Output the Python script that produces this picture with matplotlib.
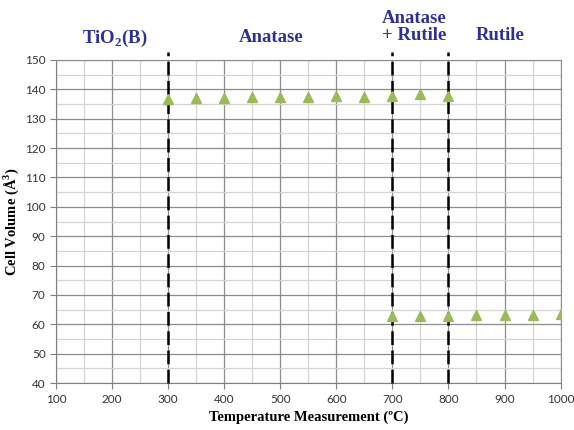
import matplotlib
matplotlib.use("Agg")
import matplotlib.pyplot as plt
import numpy as np
from matplotlib.ticker import MultipleLocator

# anatase cell volume (A^3) vs temperature (C)
anatase_t = [300, 350, 400, 450, 500, 550, 600, 650, 700, 750, 800]
anatase_v = [136.8, 137.2, 137.2, 137.4, 137.3, 137.3, 137.6, 137.5, 137.9, 138.3, 137.9]
# rutile cell volume
rutile_t = [700, 750, 800, 850, 900, 950, 1000]
rutile_v = [62.9, 62.9, 62.7, 63.2, 63.1, 63.1, 63.6]

boundaries = [300, 700, 800]
phase_labels = ["TiO$_\\mathbf{2}$(B)", "Anatase", "Anatase\n+ Rutile", "Rutile"]
phase_x = [205, 483, 739, 893]
phase_y = [157.3, 157.5, 161.2, 158.4]

GREEN = "#9bbb59"
BLUE = "#2e3192"

plt.rcParams["mathtext.fontset"] = "custom"
plt.rcParams["mathtext.rm"] = "Liberation Serif"
plt.rcParams["mathtext.bf"] = "Liberation Serif:bold"

fig = plt.figure(figsize=(5.74, 4.30), dpi=100)
ax = fig.add_axes([0.0976, 0.109, 0.879, 0.7515])

ax.plot(anatase_t, anatase_v, linestyle="none", marker="^", color=GREEN, markersize=7, zorder=4)
ax.plot(rutile_t, rutile_v, linestyle="none", marker="^", color=GREEN, markersize=7, zorder=4)

ax.set_xlim(100, 1000)
ax.set_ylim(40, 150)
ax.xaxis.set_major_locator(MultipleLocator(100))
ax.xaxis.set_minor_locator(MultipleLocator(50))
ax.yaxis.set_major_locator(MultipleLocator(10))
ax.yaxis.set_minor_locator(MultipleLocator(5))
ax.grid(which="major", color="#8c8c8c", linewidth=0.9)
ax.grid(which="minor", color="#d4d4d4", linewidth=0.9)
ax.set_axisbelow(True)

for side in ("top", "right"):
    ax.spines[side].set_color("#8c8c8c")
for side in ("left", "bottom"):
    ax.spines[side].set_color("#7f7f7f")
ax.tick_params(which="major", direction="out", length=4, color="#7f7f7f",
               labelsize=8.5, labelcolor="#333333")
ax.tick_params(which="minor", length=0)
for lab in ax.get_xticklabels() + ax.get_yticklabels():
    lab.set_family("Lato")

for b in boundaries:
    ax.axvline(b, ymin=0, ymax=1.025, color="black", linestyle=(0, (5.5, 2.2)),
               linewidth=1.8, clip_on=False, zorder=3)

for label, x, y in zip(phase_labels, phase_x, phase_y):
    ax.text(x, y, label, ha="center", va="center", color=BLUE,
            fontsize=13.5, fontweight="bold", family="Liberation Serif",
            linespacing=1.0)

ax.set_xlabel("Temperature Measurement (ºC)", family="Liberation Serif",
              fontweight="bold", fontsize=10.5, labelpad=4)
ax.set_ylabel("Cell Volume (Å$^\\mathbf{3}$)", family="Liberation Serif",
              fontweight="bold", fontsize=10.5, labelpad=3)

fig.savefig("out.png", dpi=100)
